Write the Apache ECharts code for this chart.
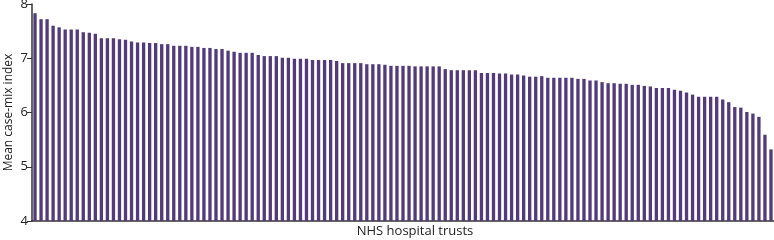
<!DOCTYPE html>
<html>
<head>
<meta charset="utf-8">
<script src="https://cdn.jsdelivr.net/npm/echarts@6/dist/echarts.min.js"></script>
<style>
  html, body { margin: 0; padding: 0; background: #fff; }
  #chart { width: 774px; height: 240px; }
</style>
</head>
<body>
<div id="chart"></div>
<script>
// mean case-mix index per trust, sorted high to low
const caseMix = [
  7.83, 7.72, 7.72, 7.60, 7.57, 7.53, 7.53, 7.53, 7.48, 7.47,
  7.45, 7.37, 7.37, 7.37, 7.35, 7.34, 7.31, 7.29, 7.29, 7.28,
  7.28, 7.26, 7.26, 7.23, 7.23, 7.23, 7.21, 7.21, 7.19, 7.19,
  7.17, 7.17, 7.14, 7.12, 7.10, 7.10, 7.10, 7.06, 7.04, 7.04,
  7.04, 7.01, 7.01, 6.99, 6.99, 6.99, 6.97, 6.97, 6.97, 6.97,
  6.95, 6.91, 6.91, 6.91, 6.91, 6.89, 6.89, 6.89, 6.88, 6.86,
  6.86, 6.86, 6.86, 6.85, 6.85, 6.85, 6.85, 6.85, 6.80, 6.78,
  6.78, 6.78, 6.78, 6.78, 6.73, 6.73, 6.73, 6.72, 6.72, 6.70,
  6.70, 6.68, 6.66, 6.66, 6.67, 6.64, 6.64, 6.64, 6.64, 6.64,
  6.62, 6.62, 6.59, 6.59, 6.56, 6.54, 6.54, 6.53, 6.53, 6.51,
  6.51, 6.49, 6.48, 6.45, 6.45, 6.45, 6.42, 6.40, 6.37, 6.33,
  6.29, 6.29, 6.29, 6.29, 6.24, 6.19, 6.10, 6.09, 6.01, 5.98,
  5.92, 5.59, 5.32
]
const trusts = caseMix.map((v, i) => 'Trust ' + (i + 1))
const yTicks = [4, 5, 6, 7, 8]

const font = '"Open Sans", "Noto Sans", sans-serif'
const myChart = echarts.init(document.getElementById('chart'), null, { renderer: 'canvas' })
myChart.setOption({
  animation: false,
  grid: { left: 32, right: 0, top: 4, bottom: 19, outerBoundsMode: 'none', containLabel: false },
  xAxis: {
    type: 'category',
    data: trusts,
    name: 'NHS hospital trusts',
    nameLocation: 'middle',
    nameGap: 4,
    nameMoveOverlap: false,
    nameTextStyle: { color: '#222', fontSize: 13, fontFamily: font, padding: [0, 0, 0, 24] },
    axisLine: { lineStyle: { color: '#333', width: 1.5 } },
    axisTick: { show: false },
    axisLabel: { show: false }
  },
  yAxis: {
    type: 'value',
    min: yTicks[0],
    max: yTicks[yTicks.length - 1],
    interval: 1,
    name: 'Mean case-mix index',
    nameLocation: 'middle',
    nameGap: 17,
    nameMoveOverlap: false,
    nameTextStyle: { color: '#222', fontSize: 12, fontFamily: font },
    axisLine: { show: true, lineStyle: { color: '#333', width: 1.5 } },
    axisTick: { show: true, length: 5, lineStyle: { color: '#333' } },
    axisLabel: { color: '#222', fontSize: 13, fontFamily: font, margin: 4 },
    splitLine: { show: false }
  },
  series: [{
    type: 'bar',
    data: caseMix,
    barCategoryGap: '45%',
    itemStyle: { color: '#533a7b' }
  }]
})
</script>
</body>
</html>
